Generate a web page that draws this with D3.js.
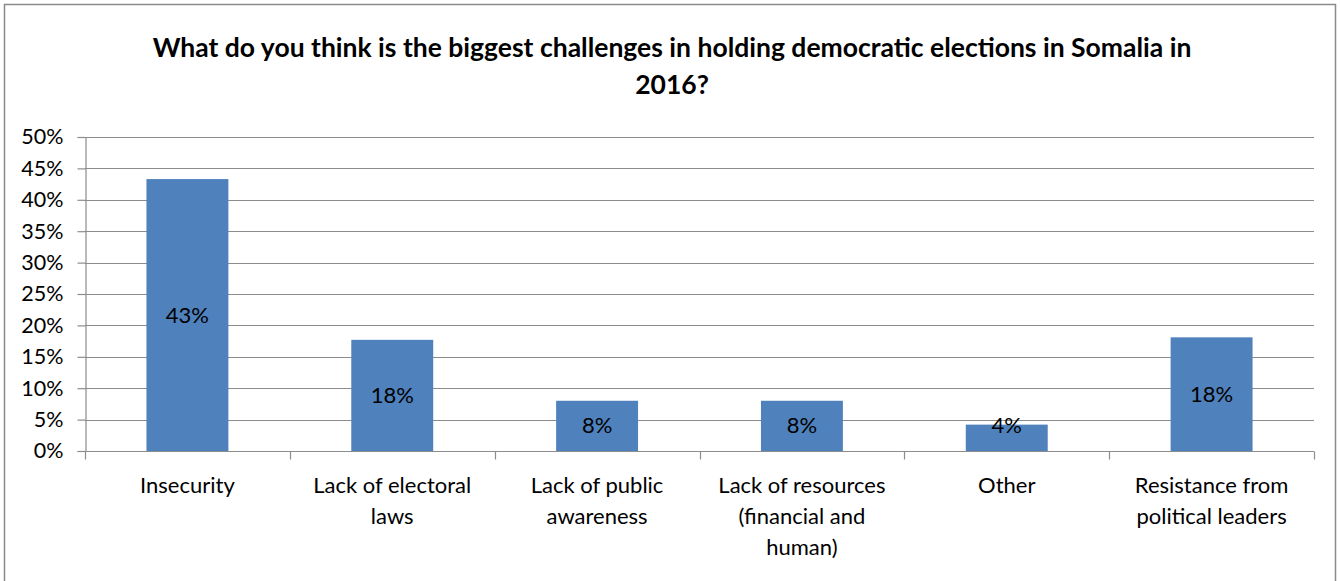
<!DOCTYPE html>
<html>
<head>
<meta charset="utf-8">
<script src="https://cdn.jsdelivr.net/npm/d3@7"></script>
<style>
  html, body { margin: 0; padding: 0; background: #ffffff; }
  svg { display: block; }
  text { font-family: Lato, "Open Sans", sans-serif; fill: #000; }
</style>
</head>
<body>
<svg id="chart" width="1340" height="581"></svg>
<script>
// Survey answers: biggest challenge to holding democratic elections in 2016
const categories = [
  "Insecurity",
  "Lack of electoral laws",
  "Lack of public awareness",
  "Lack of resources (financial and human)",
  "Other",
  "Resistance from political leaders"
];
const shares = [0.433, 0.177, 0.080, 0.080, 0.042, 0.181];
const yTicks = [0, 0.05, 0.10, 0.15, 0.20, 0.25, 0.30, 0.35, 0.40, 0.45, 0.50];
const titleLines = [
  "What do you think is the biggest challenges in holding democratic elections in Somalia in",
  "2016?"
];

const W = 1340, H = 581;
const margin = { left: 85, right: 26, top: 137, bottom: 131 };
const svg = d3.select("#chart");
const fmt = d3.format(".0%");
const barColor = "#4F81BD";
const gridColor = "#8c8c8c";

// outer frame (bottom edge falls outside the view)
svg.append("rect")
  .attr("x", 4.5).attr("y", 4.5)
  .attr("width", 1331).attr("height", 700)
  .attr("fill", "none").attr("stroke", "#8a8a8a").attr("stroke-width", 1.5);

// title
svg.append("g").selectAll("text").data(titleLines).join("text")
  .attr("x", 672).attr("y", (d, i) => 57 + i * 37)
  .attr("text-anchor", "middle")
  .attr("font-weight", "bold")
  .attr("font-size", 26.5)
  .text(d => d);

const x = d3.scaleBand().domain(categories).range([margin.left, W - margin.right]).padding(0);
const y = d3.scaleLinear().domain([0, 0.5]).range([H - margin.bottom + 1, margin.top]);

// horizontal gridlines
svg.append("g").selectAll("line").data(yTicks.filter(t => t > 0)).join("line")
  .attr("x1", margin.left).attr("x2", W - margin.right)
  .attr("y1", d => Math.round(y(d)) + 0.5).attr("y2", d => Math.round(y(d)) + 0.5)
  .attr("stroke", gridColor).attr("stroke-width", 1.2);

// y axis
const yAxis = svg.append("g")
  .attr("transform", `translate(${margin.left + 0.5},0)`)
  .call(d3.axisLeft(y).tickValues(yTicks).tickFormat(fmt).tickSize(8).tickPadding(14));
yAxis.select(".domain").attr("stroke", gridColor).attr("stroke-width", 1.2);
yAxis.selectAll(".tick line").attr("stroke", gridColor).attr("stroke-width", 1.2);
yAxis.selectAll(".tick text")
  .attr("font-size", 21.5).attr("font-family", "Lato, sans-serif").attr("fill", "#000");

// bars
const barW = x.bandwidth() * 0.4;
svg.append("g").selectAll("rect").data(shares).join("rect")
  .attr("x", (d, i) => x(categories[i]) + (x.bandwidth() - barW) / 2)
  .attr("width", barW)
  .attr("y", d => y(d))
  .attr("height", d => y(0) - y(d))
  .attr("fill", barColor);

// x axis baseline and category dividers
const y0 = Math.round(y(0)) + 0.5;
const xg = svg.append("g");
xg.append("line")
  .attr("x1", margin.left).attr("x2", W - margin.right)
  .attr("y1", y0).attr("y2", y0)
  .attr("stroke", gridColor).attr("stroke-width", 1.2);
const dividers = categories.map(c => x(c)).concat([x.range()[1]]);
xg.selectAll("line.div").data(dividers).join("line").attr("class", "div")
  .attr("x1", d => Math.round(d) + 0.5).attr("x2", d => Math.round(d) + 0.5)
  .attr("y1", y0).attr("y2", y0 + 8)
  .attr("stroke", gridColor).attr("stroke-width", 1.2);

// value labels, centred in the bar but kept clear of the baseline
svg.append("g").selectAll("text").data(shares).join("text")
  .attr("x", (d, i) => x(categories[i]) + x.bandwidth() / 2)
  .attr("y", d => Math.min((y(d) + y(0)) / 2, y(0) - 26))
  .attr("dy", "0.35em")
  .attr("text-anchor", "middle")
  .attr("font-size", 22)
  .text(d => fmt(d));

// category labels, wrapped to the band
const catG = svg.append("g");
categories.forEach(c => {
  const cx = x(c) + x.bandwidth() / 2;
  const t = catG.append("text")
    .attr("x", cx)
    .attr("y", 493)
    .attr("text-anchor", "middle")
    .attr("font-size", 22);
  const words = c.split(" ");
  let line = [];
  let ts = t.append("tspan").attr("x", cx).attr("dy", 0);
  words.forEach(w => {
    line.push(w);
    ts.text(line.join(" "));
    if (ts.node().getComputedTextLength() > 180 && line.length > 1) {
      line.pop();
      ts.text(line.join(" "));
      line = [w];
      ts = t.append("tspan").attr("x", cx).attr("dy", 31).text(w);
    }
  });
});
</script>
</body>
</html>
